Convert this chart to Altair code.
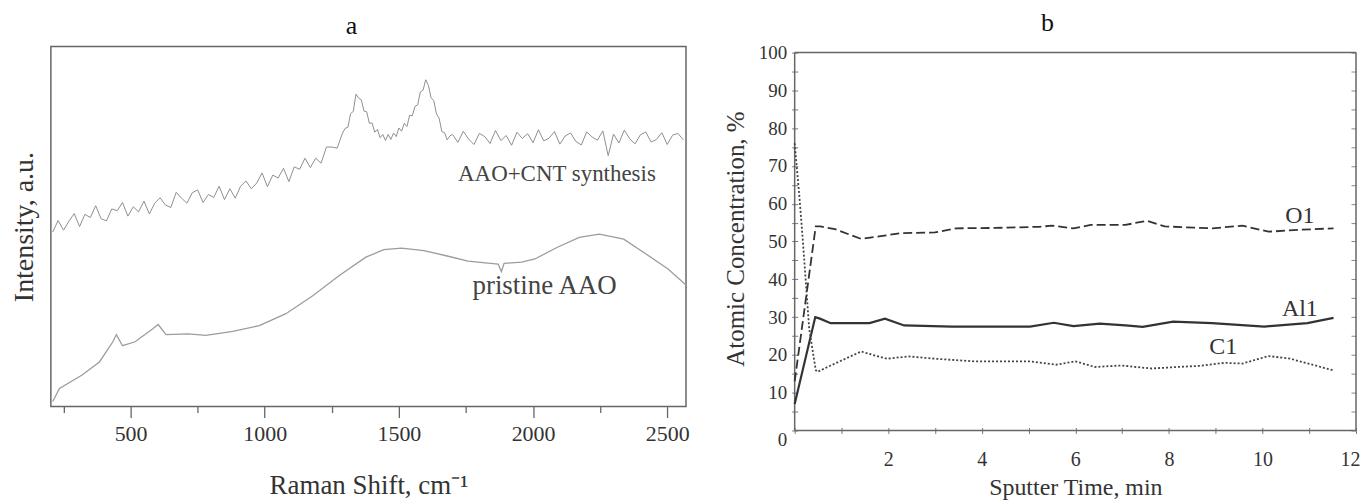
import altair as alt
import pandas as pd

FONT = "Liberation Serif"

# ---------------- Panel a: Raman spectra ----------------
cnt_x = list(range(210, 1300, 20)) + list(range(1300, 1700, 10)) + list(range(1700, 2571, 20))
cnt_y = [
    48.5, 51.7, 49.0, 51.5, 53.6, 50.0, 53.4, 52.5, 55.8, 52.2,
    51.6, 54.9, 54.4, 56.7, 52.9, 55.5, 54.1, 57.1, 53.5, 56.5,
    58.0, 56.0, 55.3, 59.5, 57.9, 56.5, 59.4, 60.2, 56.7, 58.9,
    58.1, 61.2, 57.5, 60.5, 57.9, 61.2, 62.7, 60.5, 62.1, 64.9,
    61.1, 64.3, 63.5, 66.2, 62.5, 66.6, 65.9, 69.0, 66.4, 69.0,
    67.6, 72.1, 72.1, 71.8, 76.0,
    77.3, 77.6, 81.4, 82.0, 86.8, 85.7, 85.2, 82.1, 81.9, 78.7,
    78.8, 76.2, 77.0, 74.7, 75.6, 73.9, 75.6, 74.2, 76.0, 75.0,
    77.4, 76.5, 78.7, 77.8, 80.9, 80.8, 83.4, 83.8, 87.4, 87.9,
    90.8, 89.2, 85.8, 85.0, 81.3, 80.1, 76.4, 76.1, 74.1, 75.2,
    75.6, 73.4, 76.5, 74.3, 72.8, 75.9, 75.0, 73.1, 76.7, 73.9,
    75.3, 72.6, 76.2, 74.5, 75.8, 73.3, 76.9, 73.8, 74.6, 76.4,
    72.9, 75.2, 76.0, 73.6, 72.7, 76.3, 74.9, 74.0, 76.6, 69.7,
    75.7, 73.2, 76.8, 74.4, 73.0, 75.5, 76.3, 73.5, 74.2, 76.1,
    72.8, 75.4, 75.9, 74.1,
]
pristine_x = [210, 235, 318, 384, 434, 447, 470, 517, 583, 603, 632, 715, 781, 881,
              980, 1079, 1179, 1278, 1377, 1444, 1510, 1593, 1676, 1758, 1841, 1870,
              1882, 1892, 1957, 2007, 2089, 2172, 2247, 2338, 2421, 2503, 2570]
pristine_y = [1.4, 5.0, 8.7, 12.4, 18.0, 20.0, 16.9, 18.0, 21.6, 22.8, 20.0, 20.2, 19.8, 20.9,
              22.5, 25.8, 30.8, 36.4, 41.5, 43.6, 44.0, 43.3, 41.9, 40.4, 39.8, 39.6,
              37.5, 39.8, 40.1, 41.0, 44.2, 47.0, 47.9, 46.5, 42.4, 38.2, 33.8]
a_labels = ["AAO+CNT synthesis", "pristine AAO"]
a_label_x = [2089, 2043]
a_label_y = [64.5, 33.5]
a_label_size = [23, 27]
a_major = [500, 1000, 1500, 2000, 2500]
a_minor = [250, 750, 1250, 1750, 2250]

# ---------------- Panel b: sputter depth profile ----------------
o1_t = [0, 0.45, 0.55, 0.86, 1.42, 1.88, 2.25, 3.0, 3.46, 4.29, 5.22, 5.5, 5.96, 6.33,
        7.07, 7.53, 7.91, 8.93, 9.57, 10.13, 10.78, 11.52]
o1_v = [13, 54, 54, 53.3, 50.7, 51.5, 52.2, 52.4, 53.5, 53.6, 53.9, 54.2, 53.5, 54.4,
        54.4, 55.5, 54.0, 53.5, 54.2, 52.6, 53.1, 53.5]
al1_t = [0, 0.44, 0.54, 0.77, 1.6, 1.93, 2.34, 3.36, 5.03, 5.54, 5.96, 6.52, 7.07, 7.44,
         8.09, 8.92, 10.04, 10.96, 11.52]
al1_v = [7, 30, 29.6, 28.4, 28.4, 29.6, 27.8, 27.5, 27.5, 28.5, 27.6, 28.3, 27.8, 27.4,
         28.8, 28.4, 27.5, 28.4, 29.8]
c1_t = [0, 0.1, 0.17, 0.31, 0.45, 0.49, 0.77, 1.42, 1.7, 1.97, 2.44, 2.99, 3.83, 5.03,
        5.59, 6.0, 6.42, 6.98, 7.63, 8.18, 8.65, 9.2, 9.57, 10.13, 10.59, 11.52]
c1_v = [76, 62, 51, 27, 16, 15.5, 17.2, 20.9, 19.9, 19.0, 19.6, 19.0, 18.3, 18.3,
        17.4, 18.3, 16.8, 17.2, 16.4, 16.8, 17.1, 17.9, 17.7, 19.7, 19.0, 15.9]
b_labels = ["O1", "Al1", "C1"]
b_label_t = [10.8, 10.8, 9.16]
b_label_v = [56.8, 32.2, 22.2]
b_xticks = list(range(0, 13))
b_yticks = list(range(0, 101, 5))
B_XMAX, B_YMAX = 12, 100

# ---------------- build panel a ----------------
df_cnt = pd.DataFrame({"shift": cnt_x, "val": cnt_y})
df_pri = pd.DataFrame({"shift": pristine_x, "val": pristine_y})
df_alab = pd.DataFrame({"shift": a_label_x, "val": a_label_y, "text": a_labels, "size": a_label_size})

xs_a = alt.Scale(domain=[203, 2570], nice=False, zero=False)
ys_a = alt.Scale(domain=[0, 100], nice=False)

cnt_line = alt.Chart(df_cnt).mark_line(color="#8f8f8f", strokeWidth=1).encode(
    x=alt.X("shift:Q", scale=xs_a, axis=alt.Axis(
        orient="bottom", values=a_major, format="d", title="Raman Shift, cm⁻¹",
        titleFontSize=27, titlePadding=28, titleFontWeight="normal", titleColor="#333",
        labelFontSize=22, labelColor="#333", labelPadding=6, labelFlush=False, tickSize=11,
        tickColor="#666", tickWidth=1.3, domain=False, grid=False)),
    y=alt.Y("val:Q", scale=ys_a, axis=alt.Axis(
        orient="left", title="Intensity, a.u.", titleFontSize=28, titleFontWeight="normal",
        titleColor="#333", titlePadding=12, labels=False, ticks=False, domain=False, grid=False)),
)
pri_line = alt.Chart(df_pri).mark_line(color="#9c9c9c", strokeWidth=1.3).encode(
    x=alt.X("shift:Q", scale=xs_a, axis=alt.Axis(
        orient="bottom", values=a_minor, labels=False, title=None, tickSize=6, tickColor="#666",
        tickWidth=1.3, domain=False, grid=False)),
    y=alt.Y("val:Q", scale=ys_a, axis=None),
)
a_text = alt.Chart(df_alab).mark_text(font=FONT, color="#444", align="center", baseline="middle").encode(
    x=alt.X("shift:Q", scale=xs_a, axis=None),
    y=alt.Y("val:Q", scale=ys_a, axis=None),
    text="text:N",
    size=alt.Size("size:Q", scale=None, legend=None),
)
panel_a = alt.layer(cnt_line, pri_line, a_text).resolve_axis(x="independent", y="independent").properties(
    width=637, height=361,
    title=alt.TitleParams("a", fontSize=26, font=FONT, fontWeight="normal", color="#111",
                          anchor="middle", dx=-17, offset=8),
)

# ---------------- build panel b ----------------
df_o1 = pd.DataFrame({"t": o1_t, "v": o1_v})
df_al = pd.DataFrame({"t": al1_t, "v": al1_v})
df_c1 = pd.DataFrame({"t": c1_t, "v": c1_v})
df_blab = pd.DataFrame({"t": b_label_t, "v": b_label_v, "text": b_labels})
# frame edges of the plotting box, in data units
df_frame = pd.DataFrame({
    "t1": [0, B_XMAX, 0, 0], "t2": [0, B_XMAX, B_XMAX, B_XMAX],
    "v1": [0, 0, B_YMAX, 0], "v2": [B_YMAX, B_YMAX, B_YMAX, 0],
})

B_H = 385
xs_b = alt.Scale(domain=[0, B_XMAX], nice=False)
ys_b = alt.Scale(domain=[0, B_YMAX * B_H / 379], nice=False)

o1_line = alt.Chart(df_o1).mark_line(color="#333", strokeWidth=1.8, strokeDash=[9, 4]).encode(
    x=alt.X("t:Q", scale=xs_b, axis=alt.Axis(
        orient="bottom", values=b_xticks,
        labelExpr="datum.value % 2 == 0 && datum.value > 0 ? datum.label : ''",
        title="Sputter Time, min", titleFontSize=24, titleFontWeight="normal", titleColor="#333",
        titlePadding=6, labelFontSize=20, labelColor="#333", labelPadding=16, labelFlush=True,
        labelFlushOffset=4, tickSize=6, tickColor="#777", offset=-3, domain=False, grid=False)),
    y=alt.Y("v:Q", scale=ys_b, axis=alt.Axis(
        orient="left", values=b_yticks, labelExpr="datum.value % 10 == 0 ? datum.label : ''",
        labelBaseline={"condition": {"test": "datum.value === 0", "value": "top"}, "value": "middle"},
        title="Atomic Concentration, %", titleFontSize=25, titleFontWeight="normal", titleColor="#333",
        titlePadding=10, labelFontSize=19, labelColor="#333", labelPadding=5, tickSize=6,
        tickColor="#777", offset=-3, domain=False, grid=False)),
)
al_line = alt.Chart(df_al).mark_line(color="#333", strokeWidth=2.2).encode(
    x=alt.X("t:Q", scale=xs_b, axis=None),
    y=alt.Y("v:Q", scale=ys_b, axis=None),
)
c1_line = alt.Chart(df_c1).mark_line(color="#444", strokeWidth=1.8, strokeDash=[2, 2]).encode(
    x=alt.X("t:Q", scale=xs_b, axis=None),
    y=alt.Y("v:Q", scale=ys_b, axis=alt.Axis(
        orient="right", values=b_yticks, labels=False, title=None, tickSize=5,
        tickColor="#888", offset=-5, domain=False, grid=False)),
)
b_text = alt.Chart(df_blab).mark_text(font=FONT, fontSize=24, color="#333", align="center", baseline="middle").encode(
    x=alt.X("t:Q", scale=xs_b, axis=None),
    y=alt.Y("v:Q", scale=ys_b, axis=None),
    text="text:N",
)
b_frame = alt.Chart(df_frame).mark_rule(color="#666", strokeWidth=1.5).encode(
    x=alt.X("t1:Q", scale=xs_b, axis=None), x2="t2:Q",
    y=alt.Y("v1:Q", scale=ys_b, axis=None), y2="v2:Q",
)
panel_b = alt.layer(b_frame, o1_line, al_line, c1_line, b_text).resolve_axis(
    x="independent", y="independent"
).properties(
    width=563, height=B_H,
    view=alt.ViewBackground(stroke=None),
    title=alt.TitleParams("b", fontSize=26, font=FONT, fontWeight="normal", color="#111",
                          anchor="middle", dx=-28, offset=8),
)

chart = alt.hconcat(panel_a, panel_b, spacing=33).properties(
    padding={"left": 2, "top": 0, "right": 0, "bottom": 5}
).configure(font=FONT).configure_view(stroke="#666", strokeWidth=1.5)

chart.save("out.html", embed_options={"renderer": "svg", "actions": False})
